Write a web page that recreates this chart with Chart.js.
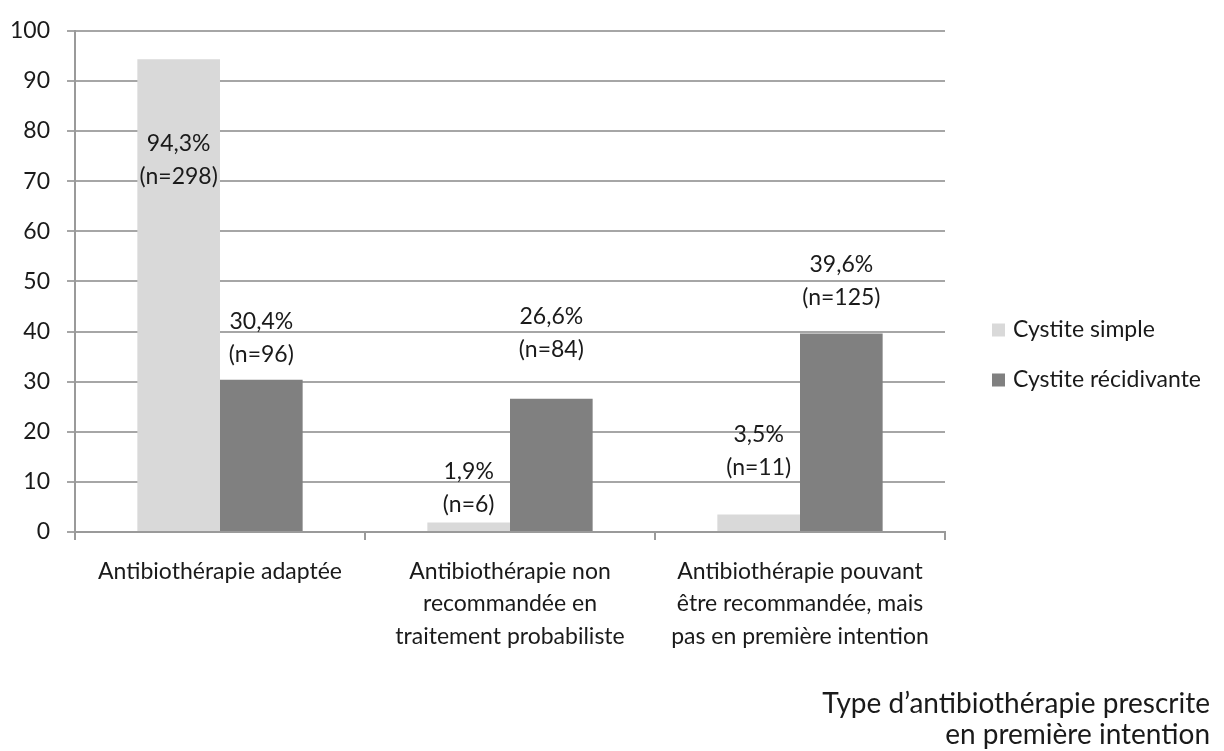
<!DOCTYPE html>
<html>
<head>
<meta charset="utf-8">
<script src="https://cdn.jsdelivr.net/npm/chart.js@4"></script>
<style>
  html, body { margin: 0; padding: 0; background: #fff; }
  #wrap { width: 1224px; height: 751px; }
</style>
</head>
<body>
<div id="wrap"><canvas id="myChart" width="1224" height="751"></canvas></div>
<script>
const categories = [
  ["Antibiothérapie adaptée"],
  ["Antibiothérapie non", "recommandée en", "traitement probabiliste"],
  ["Antibiothérapie pouvant", "être recommandée, mais", "pas en première intention"],
];
const seriesNames = ["Cystite simple", "Cystite récidivante"];
const simpleValues = [94.3, 1.9, 3.5];
const recidivanteValues = [30.4, 26.6, 39.6];
const simpleCounts = [298, 6, 11];
const recidivanteCounts = [96, 84, 125];
// where each two-line label sits, in axis units (moved by hand in the original)
const simpleLabelAt = [74.2, 8.7, 16.1];
const recidivanteLabelAt = [38.7, 39.7, 50.0];
const axisTitle = ["Type d’antibiothérapie prescrite", "en première intention"];

const FONT = "Lato, 'Noto Sans', sans-serif";
const TEXT = "#1a1a1a";
const SIZE = 23;
Chart.defaults.font.family = FONT;
Chart.defaults.font.size = SIZE;
Chart.defaults.color = TEXT;

const counts = [simpleCounts, recidivanteCounts];
const labelAt = [simpleLabelAt, recidivanteLabelAt];

const valueLabels = {
  id: "valueLabels",
  afterDatasetsDraw(chart) {
    const c = chart.ctx;
    const y = chart.scales.y;
    c.save();
    c.font = SIZE + "px " + FONT;
    c.fillStyle = TEXT;
    c.textAlign = "center";
    c.textBaseline = "middle";
    chart.data.datasets.forEach((ds, di) => {
      chart.getDatasetMeta(di).data.forEach((bar, i) => {
        const mid = y.getPixelForValue(labelAt[di][i]);
        c.fillText(ds.data[i].toFixed(1).replace(".", ",") + "%", bar.x, mid - 16.5);
        c.fillText("(n=" + counts[di][i] + ")", bar.x, mid + 16.5);
      });
    });
    c.restore();
  },
};

const sideBits = {
  id: "sideBits",
  afterDraw(chart) {
    const c = chart.ctx;
    c.save();
    c.font = SIZE + "px " + FONT;
    c.textBaseline = "middle";
    // legend
    chart.data.datasets.forEach((ds, i) => {
      const cy = 330 + i * 50;
      c.fillStyle = ds.backgroundColor;
      c.fillRect(992, cy - 6.5, 13, 13);
      c.fillStyle = TEXT;
      c.textAlign = "left";
      c.fillText(ds.label, 1013, cy);
    });
    // axis title
    c.font = "28px " + FONT;
    c.textAlign = "right";
    axisTitle.forEach((t, i) => c.fillText(t, 1210, 704 + i * 31));
    c.restore();
  },
};

new Chart(document.getElementById("myChart"), {
  type: "bar",
  data: {
    labels: categories,
    datasets: [
      {
        label: seriesNames[0],
        data: simpleValues,
        backgroundColor: "#d9d9d9",
        categoryPercentage: 0.57,
        barPercentage: 1.0,
      },
      {
        label: seriesNames[1],
        data: recidivanteValues,
        backgroundColor: "#808080",
        categoryPercentage: 0.57,
        barPercentage: 1.0,
      },
    ],
  },
  options: {
    responsive: false,
    animation: false,
    layout: {
      padding: { top: 19, right: 279, left: 0, bottom: 0 },
    },
    plugins: {
      legend: { display: false },
      tooltip: { enabled: false },
    },
    scales: {
      x: {
        grid: {
          drawOnChartArea: false,
          drawTicks: true,
          tickLength: 8,
          color: "#9a9a9a",
          lineWidth: 2,
        },
        border: { color: "#9a9a9a", width: 2 },
        ticks: {
          autoSkip: false,
          maxRotation: 0,
          minRotation: 0,
          padding: 15,
          font: { size: SIZE, lineHeight: 32.5 / SIZE },
          color: TEXT,
        },
        afterFit(scale) {
          scale.height = 219;
        },
      },
      y: {
        min: 0,
        max: 100,
        grid: {
          color: "#a6a6a6",
          lineWidth: 2,
          tickLength: 8,
        },
        border: { color: "#9a9a9a", width: 2 },
        ticks: {
          stepSize: 10,
          padding: 17,
          font: { size: SIZE },
          color: TEXT,
        },
        afterFit(scale) {
          scale.width = 75;
        },
      },
    },
  },
  plugins: [valueLabels, sideBits],
});
</script>
</body>
</html>
